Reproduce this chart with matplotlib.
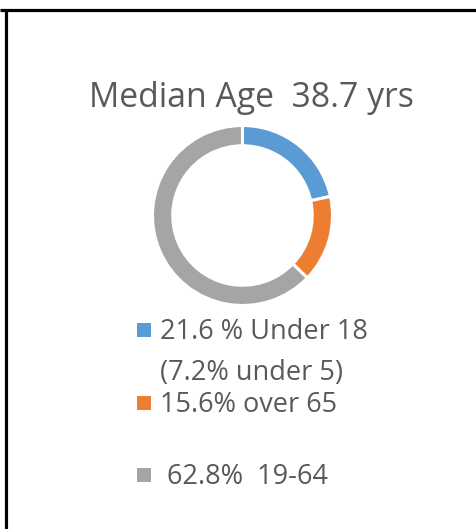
import matplotlib
matplotlib.use("Agg")
import matplotlib.pyplot as plt
from matplotlib.patches import Rectangle

# data
title = "Median Age  38.7 yrs"
shares = [21.6, 15.6, 62.8]
colors = ["#5B9BD5", "#ED7D31", "#A5A5A5"]
legend_lines = ["21.6 % Under 18", "(7.2% under 5)", "15.6% over 65", " 62.8%  19-64"]
legend_color_idx = [0, None, 1, 2]

W, H = 477, 529
fig = plt.figure(figsize=(W / 100, H / 100), dpi=100)
fig.patch.set_facecolor("white")
plt.rcParams['font.family'] = ['Open Sans', 'DejaVu Sans']

# overlay axes in pixel coordinates
ax = fig.add_axes([0, 0, 1, 1])
ax.set_xlim(0, W)
ax.set_ylim(H, 0)
ax.axis("off")

# frame lines (top and left)
ax.plot([0, W], [9.5, 9.5], color="black", lw=2.3, solid_capstyle="butt")
ax.plot([6, 6], [9.5, H], color="black", lw=2.3, solid_capstyle="butt")

txt = "#595959"
ax.text(251, 107, title, fontsize=24.3, color=txt, ha="center", va="baseline")

# donut
cx, cy, r = 242.5, 215.5, 90
pax = fig.add_axes([(cx - r) / W, (H - cy - r) / H, 2 * r / W, 2 * r / H])
pax.pie(shares, colors=colors, startangle=90, counterclock=False, radius=1,
        wedgeprops=dict(width=0.225, edgecolor="white", linewidth=2.2))
pax.set_xlim(-1, 1)
pax.set_ylim(-1, 1)
pax.axis("off")

# legend
baselines = [339, 380, 412, 484]
text_x = [160, 160, 160, 160]
for line, ci, yb, xt in zip(legend_lines, legend_color_idx, baselines, text_x):
    ax.text(xt, yb, line, fontsize=19.5, color=txt, ha="left", va="baseline")
    if ci is not None:
        ax.add_patch(Rectangle((137, yb - 16), 14, 14, color=colors[ci], lw=0))

fig.savefig("out.png", dpi=100, facecolor="white")
